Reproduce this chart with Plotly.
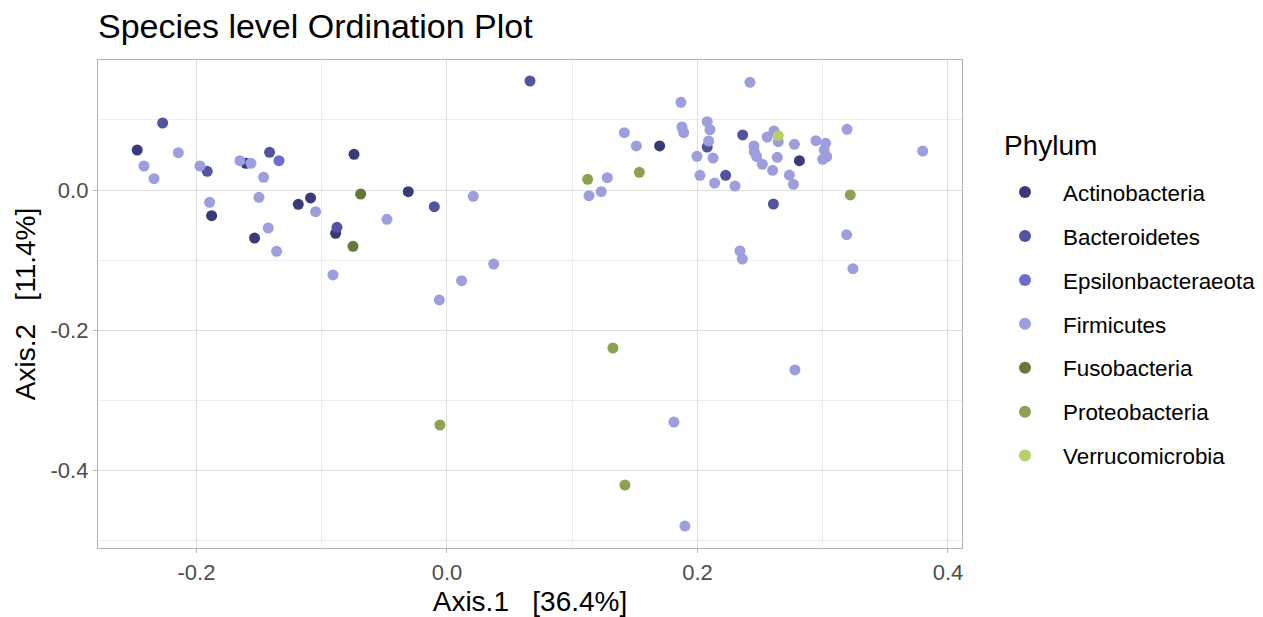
import plotly.graph_objects as go

# ---- data ----
phyla = ["Actinobacteria", "Bacteroidetes", "Epsilonbacteraeota", "Firmicutes",
         "Fusobacteria", "Proteobacteria", "Verrucomicrobia"]
colors = ["#393b79", "#5254a3", "#6b6ecf", "#9c9ede", "#637939", "#8ca252", "#b5cf6b"]

actino_x = [-0.2473, -0.1605, -0.1879, -0.1536, -0.1187, -0.1089, -0.0742, -0.0309, -0.0889, 0.1698, 0.2814]
actino_y = [0.0571, 0.0381, -0.0367, -0.0686, -0.0205, -0.0114, 0.0510, -0.0024, -0.0619, 0.0629, 0.0419]

bacte_x = [-0.2270, -0.1914, -0.1416, -0.0878, -0.0101, 0.0663, 0.2078, 0.2225, 0.2361, 0.2606]
bacte_y = [0.0957, 0.0267, 0.0538, -0.0533, -0.0238, 0.1557, 0.0614, 0.0210, 0.0786, -0.0200]

epsil_x = [-0.1341]
epsil_y = [0.0419]

firmi_x = [-0.2419, -0.2339, -0.2145, -0.1972, -0.1895, -0.1653, -0.1565, -0.1464, -0.1501, -0.1427,
           -0.1360, -0.1049, -0.0479, -0.0910, 0.0210, 0.0373, 0.0117, -0.0061,
           0.2419, 0.1868, 0.1416, 0.1512, 0.1280, 0.1134, 0.1232, 0.1876, 0.1890, 0.2078,
           0.2100, 0.2089, 0.1996, 0.2124, 0.2020, 0.2137, 0.2300, 0.2451, 0.2454, 0.2473,
           0.2518, 0.2557, 0.2611, 0.2645, 0.2637, 0.2600, 0.2774, 0.2734, 0.2766, 0.2946,
           0.3023, 0.3012, 0.3032, 0.3000, 0.3194, 0.3191, 0.3241, 0.3798, 0.2339, 0.2358,
           0.1812, 0.1900, 0.2778]
firmi_y = [0.0343, 0.0162, 0.0533, 0.0343, -0.0176, 0.0419, 0.0381, 0.0181, -0.0105, -0.0543,
           -0.0876, -0.0310, -0.0419, -0.1214, -0.0090, -0.1057, -0.1295, -0.1571,
           0.1538, 0.1252, 0.0819, 0.0629, 0.0176, -0.0081, -0.0024, 0.0900, 0.0819, 0.0976,
           0.0862, 0.0700, 0.0481, 0.0457, 0.0210, 0.0100, 0.0057, 0.0629, 0.0548, 0.0476,
           0.0367, 0.0757, 0.0843, 0.0690, 0.0467, 0.0281, 0.0652, 0.0214, 0.0081, 0.0705,
           0.0667, 0.0571, 0.0476, 0.0438, 0.0867, -0.0638, -0.1124, 0.0557, -0.0871, -0.0986,
           -0.3314, -0.4800, -0.2571]

fuso_x = [-0.0689, -0.0750]
fuso_y = [-0.0057, -0.0805]

proteo_x = [0.1123, 0.1536, 0.3220, 0.1325, -0.0056, 0.1421]
proteo_y = [0.0152, 0.0252, -0.0071, -0.2257, -0.3357, -0.4214]

verru_x = [0.2645]
verru_y = [0.0776]

series_x = [actino_x, bacte_x, epsil_x, firmi_x, fuso_x, proteo_x, verru_x]
series_y = [actino_y, bacte_y, epsil_y, firmi_y, fuso_y, proteo_y, verru_y]

x_ticks = [-0.2, 0.0, 0.2, 0.4]
x_tick_labels = ["-0.2", "0.0", "0.2", "0.4"]
y_ticks = [-0.4, -0.2, 0.0]
y_tick_labels = ["-0.4", "-0.2", "0.0"]

FONT = "Liberation Sans, Arial, sans-serif"
W, H = 1263, 617

fig = go.Figure()
for name, col, xs, ys in zip(phyla, colors, series_x, series_y):
    fig.add_trace(go.Scatter(
        x=xs, y=ys, mode="markers", name=name, legendgroup=name,
        marker=dict(color=col, size=11, line=dict(width=0)),
    ))

axis_common = dict(
    showgrid=True, gridcolor="#dedede", gridwidth=1, automargin=False,
    zeroline=False, showline=True, linecolor="#b3b3b3", linewidth=1.3, mirror=True,
    ticks="outside", ticklen=4, tickcolor="#b3b3b3", tickwidth=1,
    tickfont=dict(family=FONT, size=22, color="#4d4d4d"),
    minor=dict(showgrid=True, gridcolor="#ededed", gridwidth=0.6, dtick=0.1, ticks=""),
)

fig.update_layout(
    width=W, height=H,
    paper_bgcolor="white", plot_bgcolor="white",
    margin=dict(l=98, r=301, t=60, b=69),
    font=dict(family=FONT, color="black"),
    title=dict(text="Species level Ordination Plot", x=98 / W, xanchor="left",
               y=1 - 26 / H, yanchor="middle", xref="container", yref="container",
               font=dict(family=FONT, size=34, color="black")),
    xaxis=dict(range=[-0.2786, 0.4112], tickvals=x_ticks, ticktext=x_tick_labels,
               title=dict(text="Axis.1\u00a0\u00a0\u00a0[36.4%]",
                          font=dict(family=FONT, size=28, color="black"), standoff=7),
               **axis_common),
    yaxis=dict(range=[-0.5114, 0.1857], tickvals=y_ticks, ticktext=y_tick_labels,
               title=dict(text="Axis.2\u00a0\u00a0\u00a0[11.4%]",
                          font=dict(family=FONT, size=28, color="black"), standoff=6),
               **axis_common),
    legend=dict(font=dict(family=FONT, size=22.4, color="black"),
                xref="container", yref="container",
                x=987 / W, xanchor="left", y=1 - 171 / H, yanchor="top",
                tracegroupgap=11.8, itemsizing="constant", itemwidth=66,
                bgcolor="rgba(0,0,0,0)"),
    showlegend=True,
    annotations=[dict(text="Phylum", xref="paper", yref="paper",
                      x=(1002 - 98) / 864, y=(548 - 145) / 488,
                      xanchor="left", yanchor="middle", showarrow=False,
                      font=dict(family=FONT, size=28, color="black"))],
)

fig.write_html("out.html")
